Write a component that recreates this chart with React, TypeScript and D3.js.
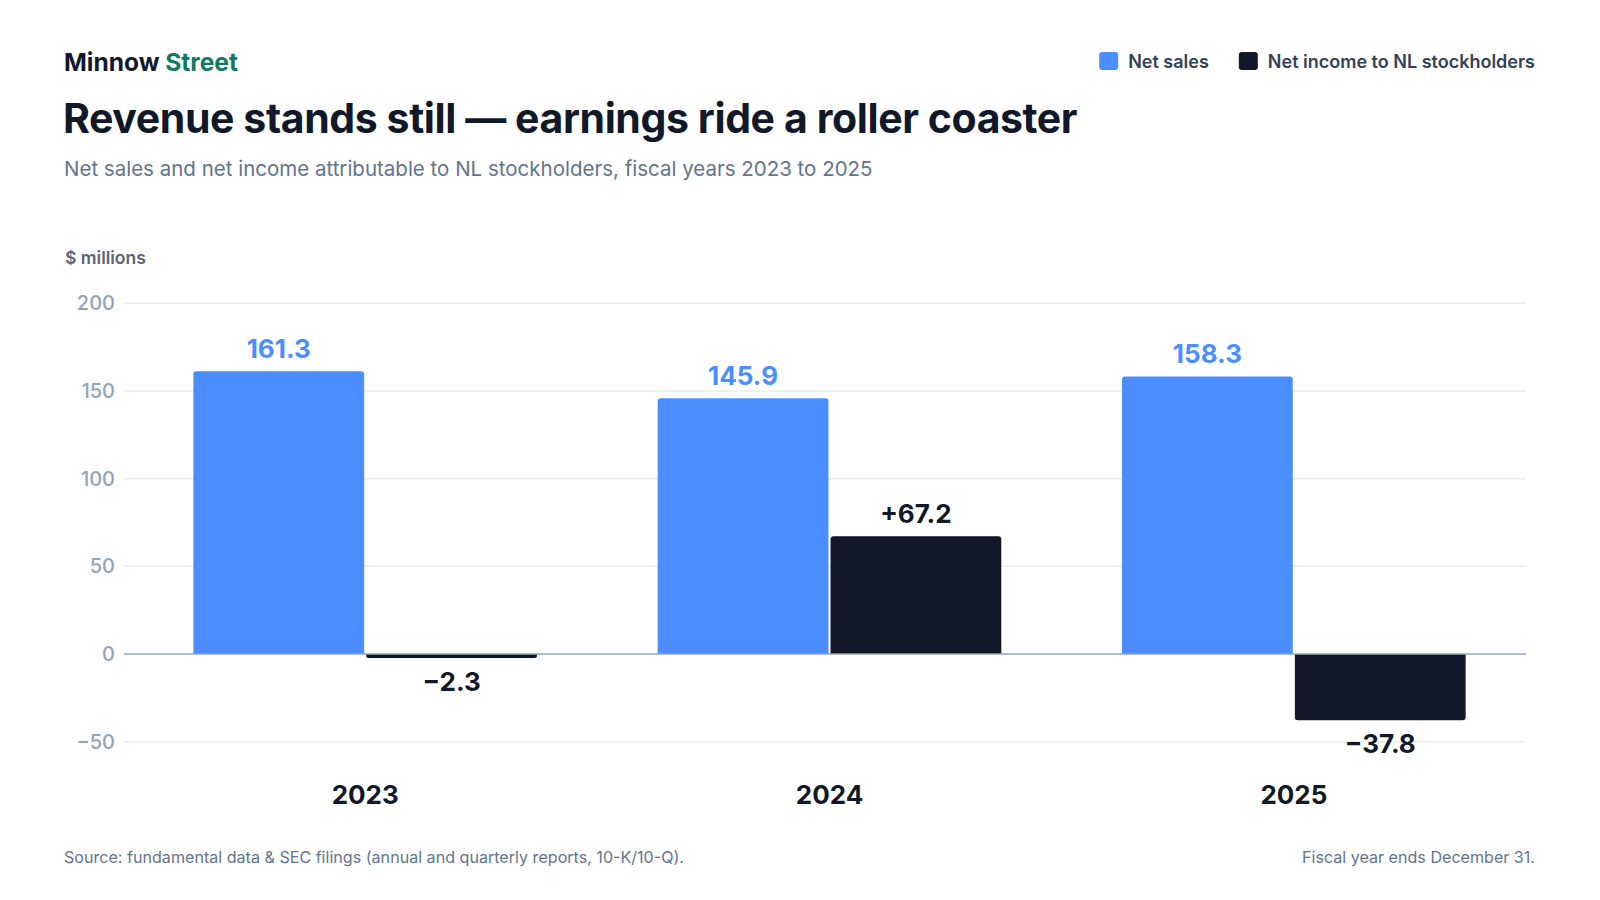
import { useRef, useEffect } from 'react';
import * as d3 from 'd3';

const years = ['2023', '2024', '2025'];
const netSales = [161.3, 145.9, 158.3];
const netIncome = [-2.3, 67.2, -37.8];
const yTicks = [-50, 0, 50, 100, 150, 200];

const seriesKeys = ['sales', 'income'] as const;
const seriesNames = { sales: 'Net sales', income: 'Net income to NL stockholders' };
const colors = { sales: '#4c8dff', income: '#111827' };

const W = 1600;
const H = 900;
const FONT = 'Inter, "Noto Sans", sans-serif';

// bar with rounded corners only at the end away from zero
function barPath(x: number, w: number, y0: number, y1: number, r: number) {
  const top = Math.min(y0, y1);
  const bot = Math.max(y0, y1);
  const h = bot - top;
  const rr = Math.min(r, h / 2, w / 2);
  if (y1 < y0) {
    return `M${x},${bot}V${top + rr}Q${x},${top} ${x + rr},${top}H${x + w - rr}Q${x + w},${top} ${x + w},${top + rr}V${bot}Z`;
  }
  return `M${x},${top}V${bot - rr}Q${x},${bot} ${x + rr},${bot}H${x + w - rr}Q${x + w},${bot} ${x + w},${bot - rr}V${top}Z`;
}

export default function App() {
  const svgRef = useRef<SVGSVGElement>(null);

  useEffect(() => {
    document.body.style.margin = '0';
    if (!svgRef.current) return;
    const svg = d3.select(svgRef.current);
    svg.selectAll('*').remove();

    const plotLeft = 124;
    const plotRight = 1526;

    const y = d3.scaleLinear().domain([-50, 200]).range([741.7, 303.3]);
    const x0 = d3.scaleBand<string>().domain(years).range([133, 1526]).paddingInner(0.26).paddingOuter(0.13);
    const x1 = d3.scaleBand<string>().domain(seriesKeys as unknown as string[]).range([0, x0.bandwidth()]).paddingInner(0.012);

    const rows = years.map((yr, i) => ({ year: yr, sales: netSales[i], income: netIncome[i] }));

    // header
    const brand = svg.append('text').attr('x', 64).attr('y', 71).attr('font-family', FONT)
      .attr('font-size', 24.5).attr('font-weight', 700);
    brand.append('tspan').attr('fill', '#111827').text('Minnow ');
    brand.append('tspan').attr('fill', '#0f7b5c').text('Street');

    svg.append('text').attr('x', 63).attr('y', 133).attr('font-family', FONT)
      .attr('font-size', 41).attr('font-weight', 700).attr('letter-spacing', '-0.4')
      .attr('fill', '#111827').text('Revenue stands still — earnings ride a roller coaster');

    svg.append('text').attr('x', 64).attr('y', 176).attr('font-family', FONT)
      .attr('font-size', 20.5).attr('fill', '#64748b')
      .text('Net sales and net income attributable to NL stockholders, fiscal years 2023 to 2025');

    // legend, right aligned
    const legend = svg.append('g').attr('font-family', FONT).attr('font-size', 18).attr('font-weight', 600);
    let lx = 1535;
    [...seriesKeys].reverse().forEach((key) => {
      const t = legend.append('text').attr('y', 68).attr('fill', '#334155').attr('text-anchor', 'end')
        .attr('x', lx).text(seriesNames[key]);
      const tw = (t.node() as SVGTextElement).getComputedTextLength();
      legend.append('rect').attr('x', lx - tw - 29).attr('y', 52).attr('width', 19).attr('height', 18)
        .attr('rx', 3).attr('fill', colors[key]);
      lx = lx - tw - 29 - 30;
    });

    // y axis label
    svg.append('text').attr('x', 65).attr('y', 264).attr('font-family', FONT)
      .attr('font-size', 17.5).attr('font-weight', 600).attr('fill', '#5a6475').text('$ millions');

    // gridlines + tick labels
    const grid = svg.append('g');
    yTicks.forEach((t) => {
      if (t !== 0) {
        grid.append('line').attr('x1', plotLeft).attr('x2', plotRight).attr('y1', y(t)).attr('y2', y(t))
          .attr('stroke', '#e9ecf0').attr('stroke-width', 1.5);
      }
      grid.append('text').attr('x', 115).attr('y', y(t)).attr('dy', '0.35em').attr('text-anchor', 'end')
        .attr('font-family', FONT).attr('font-size', 20).attr('font-weight', 500).attr('fill', '#94a3b8')
        .text(t < 0 ? `−${Math.abs(t)}` : String(t));
    });

    // bars
    const groups = svg.append('g').selectAll('g.year').data(rows).join('g')
      .attr('transform', (d) => `translate(${x0(d.year)},0)`);

    seriesKeys.forEach((key) => {
      groups.append('path')
        .attr('d', (d) => barPath(x1(key)!, x1.bandwidth(), y(0), y(d[key]), 3))
        .attr('fill', colors[key]);

      groups.append('text')
        .attr('x', x1(key)! + x1.bandwidth() / 2)
        .attr('y', (d) => (d[key] >= 0 ? y(d[key]) - 13 : y(d[key]) + 33))
        .attr('text-anchor', 'middle').attr('font-family', FONT).attr('font-size', 26).attr('font-weight', 700)
        .attr('fill', key === 'sales' ? colors.sales : '#111827')
        .text((d) => {
          const v = d[key];
          if (key === 'sales') return v.toFixed(1);
          return v < 0 ? `−${Math.abs(v).toFixed(1)}` : `+${v.toFixed(1)}`;
        });
    });

    // zero line
    svg.append('line').attr('x1', plotLeft).attr('x2', plotRight).attr('y1', y(0)).attr('y2', y(0))
      .attr('stroke', '#94a3b8').attr('stroke-width', 1.5);

    // year labels
    svg.append('g').selectAll('text').data(years).join('text')
      .attr('x', (d) => x0(d)! + x0.bandwidth() / 2).attr('y', 804).attr('text-anchor', 'middle')
      .attr('font-family', FONT).attr('font-size', 26).attr('font-weight', 700).attr('fill', '#111827')
      .text((d) => d);

    // footer
    svg.append('text').attr('x', 64).attr('y', 863).attr('font-family', FONT).attr('font-size', 16.1)
      .attr('fill', '#64748b').text('Source: fundamental data & SEC filings (annual and quarterly reports, 10-K/10-Q).');
    svg.append('text').attr('x', 1535).attr('y', 863).attr('text-anchor', 'end').attr('font-family', FONT)
      .attr('font-size', 16.1).attr('fill', '#64748b').text('Fiscal year ends December 31.');
  }, []);

  return (
    <svg ref={svgRef} width={W} height={H} viewBox={`0 0 ${W} ${H}`} style={{ display: 'block', background: '#fff' }} />
  );
}
